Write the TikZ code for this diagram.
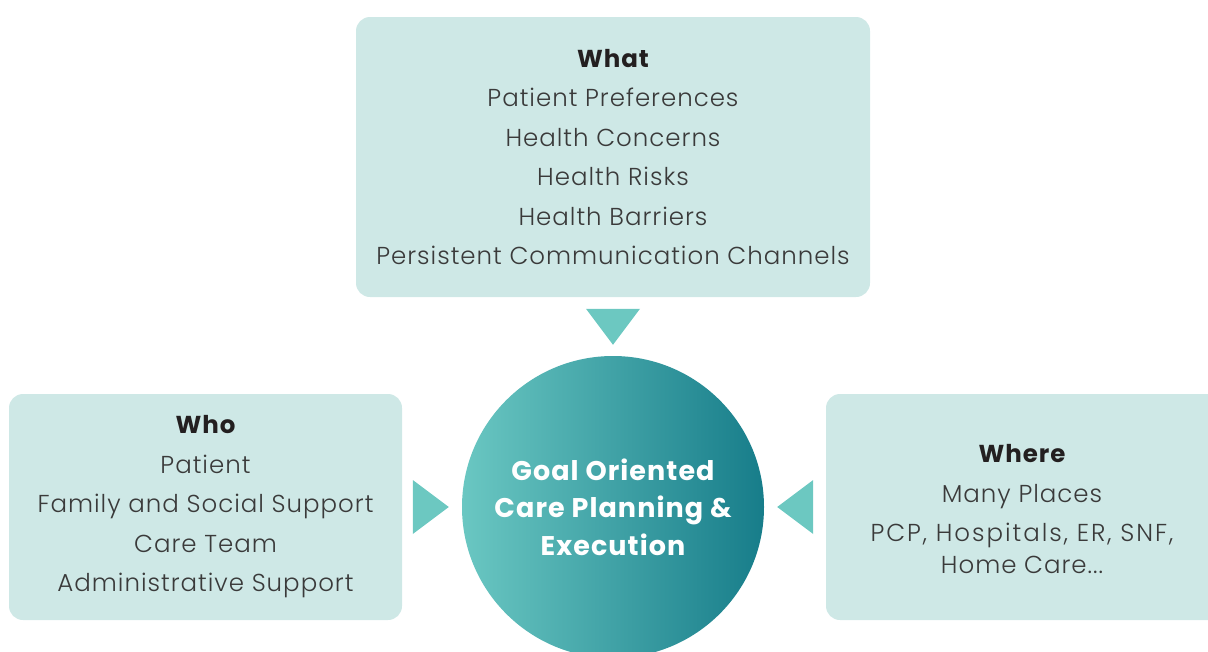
\documentclass[tikz,border=0pt]{standalone}
\usepackage{fontspec}
\IfFontExistsTF{Poppins Light}{\setmainfont{Poppins Light}[BoldFont=Poppins Bold, LetterSpace=4]}{\setmainfont{Poppins}[LetterSpace=4]}
\usetikzlibrary{calc}
\definecolor{boxfill}{HTML}{CEE8E6}
\definecolor{trifill}{HTML}{6CC8C1}
\definecolor{gradL}{HTML}{6AC7C2}
\definecolor{gradR}{HTML}{177D8A}
\definecolor{txt}{HTML}{3A3A3A}
\definecolor{head}{HTML}{231F20}
\begin{document}
\begin{tikzpicture}[x=1pt,y=-1pt,
  infobox/.style={fill=boxfill, rounded corners=14pt, draw=none, align=center,
    text=txt, font=\fontsize{24.5}{39.5}\selectfont, inner sep=0pt},
  tri/.style={fill=trifill, draw=none},
  hub/.style={circle, minimum size=302pt, inner sep=0pt, shading=axis,
    left color=gradL, right color=gradR, text=white, align=center,
    font=\bfseries\fontsize{27}{37.5}\selectfont}]
\useasboundingbox (0,0) rectangle (1208,651);
\node[infobox, minimum width=514pt, minimum height=280pt] (what) at (613,157)
  {{\color{head}\bfseries What}\\ Patient Preferences\\ Health Concerns\\ Health Risks\\ Health Barriers\\ Persistent Communication Channels};
\node[infobox, minimum width=393pt, minimum height=226pt] (who) at (205.5,507)
  {{\color{head}\bfseries Who}\\ Patient\\ Family and Social Support\\ Care Team\\ Administrative Support};
\node[infobox, minimum width=400pt, minimum height=226pt, font=\fontsize{24.5}{32}\selectfont, text depth=0pt] (where) at (1026,507)
  {\rule{0pt}{22.5pt}\hspace*{-8pt}{\color{head}\bfseries Where}\\[7.5pt] \hspace*{-8pt}Many Places\\[7.5pt] \hspace*{-8pt}{\addfontfeature{LetterSpace=8}PCP, Hospitals, ER, SNF,}\\ \hspace*{-8pt}Home Care...};
\node[hub] (hub) at (613,507) {Goal Oriented\\ Care Planning \&\\ Execution};
\fill[tri] ($(hub.north)+(0,-11)$) -- ++(-27,-36) -- ++(54,0) -- cycle;
\fill[tri] ($(hub.west)+(-13,0)$) -- ++(-36,-27) -- ++(0,54) -- cycle;
\fill[tri] ($(hub.east)+(13,0)$) -- ++(36,-27) -- ++(0,54) -- cycle;
\end{tikzpicture}
\end{document}
